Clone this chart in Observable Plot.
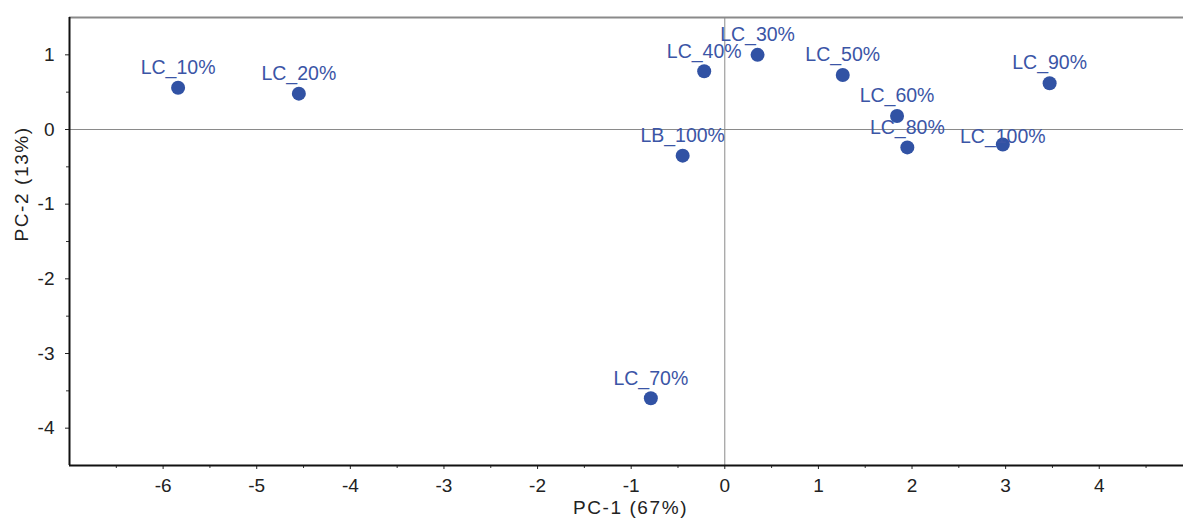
<!DOCTYPE html>
<html>
<head>
<meta charset="utf-8">
<script src="https://cdn.jsdelivr.net/npm/d3@7"></script>
<script src="https://cdn.jsdelivr.net/npm/@observablehq/plot@0.6"></script>
<style>
  html, body { margin: 0; padding: 0; background: #fff; }
  .axis-title text { letter-spacing: 1.6px; }
</style>
</head>
<body>
<div id="chart"></div>
<script>
const labels = ["LC_10%", "LC_20%", "LC_30%", "LC_40%", "LC_50%", "LC_60%", "LC_70%", "LC_80%", "LC_90%", "LC_100%", "LB_100%"];
const pc1 = [-5.84, -4.55, 0.35, -0.22, 1.26, 1.84, -0.79, 1.95, 3.47, 2.97, -0.45];
const pc2 = [0.56, 0.48, 1.00, 0.78, 0.73, 0.18, -3.60, -0.24, 0.62, -0.20, -0.35];
const xTicks = [-6, -5, -4, -3, -2, -1, 0, 1, 2, 3, 4];
const yTicks = [1, 0, -1, -2, -3, -4];
const xMinor = [-6.5, -5.5, -4.5, -3.5, -2.5, -1.5, -0.5, 0.5, 1.5, 2.5, 3.5, 4.5];
const yMinor = [0.5, -0.5, -1.5, -2.5, -3.5];
const xTitle = "PC-1 (67%)";
const yTitle = "PC-2 (13%)";
const lowLabel = "LC_100%";

const data = labels.map((l, i) => ({label: l, x: pc1[i], y: pc2[i]}));

const font = "'Liberation Sans', Arial, sans-serif";
const blue = "#3152a4";
const labelBlue = "#3b55a6";
const fmt = d => String(d);

const chart = Plot.plot({
  width: 1183,
  height: 522,
  marginLeft: 69,
  marginRight: 0,
  marginTop: 17,
  marginBottom: 57,
  style: {fontFamily: font, background: "#fff", overflow: "visible"},
  x: {type: "linear", domain: [-7, 4.9]},
  y: {type: "linear", domain: [-4.5, 1.5]},
  marks: [
    Plot.ruleY([0], {stroke: "#8a8a8a", strokeWidth: 1}),
    Plot.ruleX([0], {stroke: "#8a8a8a", strokeWidth: 1}),
    Plot.ruleY([1.5], {stroke: "#8a8a8a", strokeWidth: 2}),
    Plot.axisX({ticks: xTicks, tickSize: 4, tickPadding: 9, tickFormat: fmt, fontSize: 19, color: "#222", label: null, stroke: "#222"}),
    Plot.axisX({ticks: xMinor, tickSize: 3, text: null, label: null, stroke: "#333"}),
    Plot.axisY({ticks: yTicks, tickSize: 4, tickPadding: 11, tickFormat: fmt, fontSize: 19, color: "#222", label: null, stroke: "#222"}),
    Plot.axisY({ticks: yMinor, tickSize: 3, text: null, label: null, stroke: "#333"}),
    Plot.ruleX([-7], {stroke: "#111", strokeWidth: 2}),
    Plot.ruleY([-4.5], {stroke: "#111", strokeWidth: 2}),
    Plot.dot(data, {x: "x", y: "y", r: 7, fill: blue, stroke: "none"}),
    Plot.text(data.filter(d => d.label !== lowLabel), {x: "x", y: "y", text: "label", dy: -20, fontSize: 19.5, fill: labelBlue}),
    Plot.text(data.filter(d => d.label === lowLabel), {x: "x", y: "y", text: "label", dy: -8, fontSize: 19.5, fill: labelBlue}),
    Plot.text([xTitle], {frameAnchor: "bottom", dx: 4, dy: 48, fontSize: 19, fill: "#222", className: "axis-title"}),
    Plot.text([yTitle], {frameAnchor: "left", dx: -48, rotate: -90, fontSize: 19, fill: "#222", className: "axis-title"})
  ]
});
document.getElementById("chart").appendChild(chart);
</script>
</body>
</html>
